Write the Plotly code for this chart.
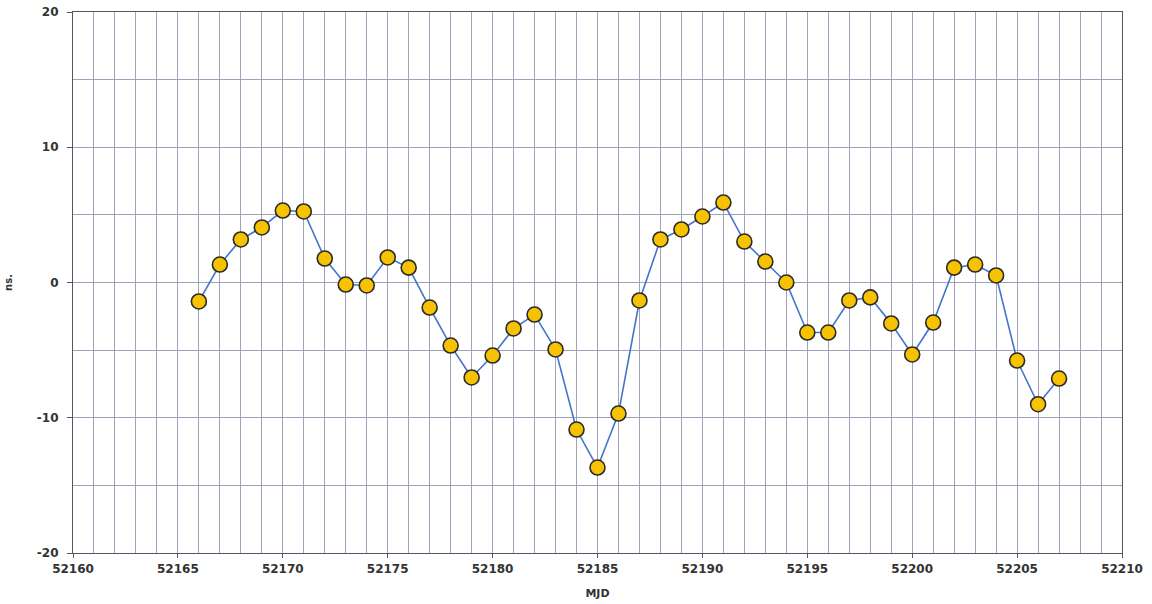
import plotly.graph_objects as go

mjd = list(range(52166, 52208))
ns = [-1.4, 1.33, 3.18, 4.07, 5.32, 5.25, 1.77, -0.15, -0.22, 1.85,
      1.1, -1.85, -4.66, -7.02, -5.4, -3.4, -2.37, -4.95, -10.87, -13.68,
      -9.69, -1.33, 3.18, 3.92, 4.88, 5.91, 3.03, 1.55, 0.0, -3.7,
      -3.7, -1.33, -1.1, -3.03, -5.32, -2.96, 1.1, 1.33, 0.52, -5.77,
      -9.0, -7.1]

x_ticks = [52160, 52165, 52170, 52175, 52180, 52185, 52190, 52195, 52200, 52205, 52210]
x_labels = [str(v) for v in x_ticks]
y_ticks = [-20, -10, 0, 10, 20]
y_labels = ["-20", "-10", "0", "10", "20"]

grid_c = "#9fa2b8"
axis_c = "#555566"
font_fam = "DejaVu Sans, Liberation Sans, Arial"

fig = go.Figure()
fig.add_trace(go.Scatter(
    x=mjd, y=ns, mode="lines+markers",
    line=dict(color="#4374cc", width=1.6),
    marker=dict(symbol="circle", size=15, color="#f7c200",
                line=dict(color="#2a2a2a", width=1.6)),
    showlegend=False,
))

fig.update_layout(
    width=1152, height=604,
    margin=dict(l=73, r=30, t=12, b=51),
    paper_bgcolor="white", plot_bgcolor="white",
    font=dict(family=font_fam, color="#333333"),
    xaxis=dict(
        range=[52160, 52210], tickvals=x_ticks, ticktext=x_labels,
        showgrid=True, gridcolor=grid_c, gridwidth=1, automargin=False,
        minor=dict(dtick=1, tick0=52160, showgrid=True, gridcolor=grid_c, gridwidth=1),
        ticks="outside", ticklen=4, tickcolor=axis_c,
        showline=True, linecolor=axis_c, linewidth=1.2, mirror=True,
        zeroline=False,
        tickfont=dict(size=12, weight="bold", color="#333333"),
        title=dict(text="MJD", font=dict(size=11, weight="bold", color="#333333"), standoff=14),
    ),
    yaxis=dict(
        range=[-20, 20], tickvals=y_ticks, ticktext=y_labels,
        showgrid=True, gridcolor=grid_c, gridwidth=1, automargin=False,
        minor=dict(dtick=5, tick0=-20, showgrid=True, gridcolor=grid_c, gridwidth=1),
        ticks="outside", ticklen=5, tickcolor=axis_c, ticklabelstandoff=6,
        ticklabeloverflow="allow",
        showline=True, linecolor=axis_c, linewidth=1.2, mirror=True,
        zeroline=False,
        tickfont=dict(size=12, weight="bold", color="#333333"),
        title=dict(text="ns.", font=dict(size=10, weight="bold", color="#333333"), standoff=22),
    ),
)

fig.write_html("out.html", config={"displayModeBar": False},
               post_script="document.body.style.margin='0px';")
